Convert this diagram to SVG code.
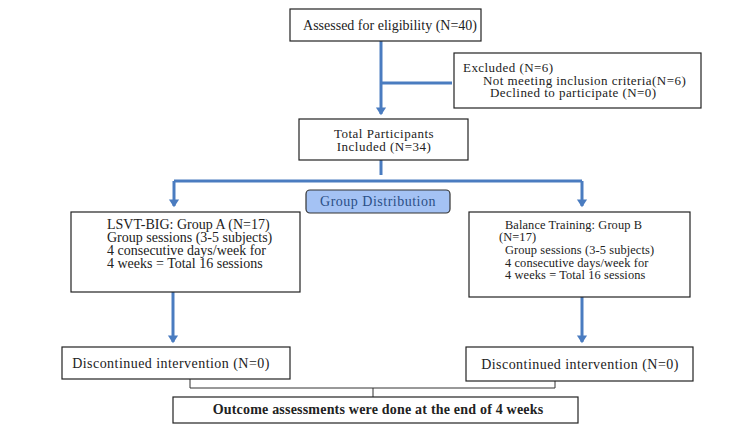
<svg xmlns="http://www.w3.org/2000/svg" width="750" height="429" viewBox="0 0 750 429">
<defs>
<marker id="ah" markerWidth="4" markerHeight="4" refX="2.2" refY="2" orient="auto" markerUnits="strokeWidth">
<path d="M0,0.3 L2.6,2 L0,3.7 Z" fill="#4a7cc0"/>
</marker>
</defs>
<style>
.box{fill:#fff;stroke:#222;stroke-width:1.2}
.t{font-family:"Liberation Serif","Times New Roman",serif;font-size:13px;fill:#222}
.m{font-size:14px}
.ex{font-size:13px;letter-spacing:0.45px}
.gb{font-size:12.4px;letter-spacing:0.1px}
.c{text-anchor:middle}
.b{font-weight:bold}
.blue{fill:none;stroke:#4a7cc0;stroke-width:3}
.thin{fill:none;stroke:#333;stroke-width:1}
</style>
<rect width="750" height="429" fill="#fff"/>
<g id="connectors">
<path class="blue" d="M381,41 V114" marker-end="url(#ah)"/>
<path class="blue" d="M381,83 H452"/>
<path class="blue" d="M381,160 V175"/>
<path class="blue" d="M174,181 H582"/>
<path class="blue" d="M174,181 V206" marker-end="url(#ah)"/>
<path class="blue" d="M582,181 V206" marker-end="url(#ah)"/>
<path class="blue" d="M173,292 V342" marker-end="url(#ah)"/>
<path class="blue" d="M582,297 V342" marker-end="url(#ah)"/>
<path class="thin" d="M190,379 V388 H555 V381 M373,388 V397"/>
</g>
<g id="assessed">
<rect class="box" x="290" y="9" width="191" height="32"/>
<text class="t m c" x="390" y="30">Assessed for eligibility (N=40)</text>
</g>
<g id="excluded">
<rect class="box" x="454" y="53" width="247" height="55"/>
<text class="t ex" x="463" y="72">Excluded (N=6)</text>
<text class="t ex" x="483" y="85">Not meeting inclusion criteria(N=6)</text>
<text class="t ex" x="490" y="97">Declined to participate (N=0)</text>
</g>
<g id="total">
<rect class="box" x="299" y="119" width="169" height="41"/>
<text class="t c" x="384" y="138" style="letter-spacing:0.5px">Total Participants</text>
<text class="t c" x="384" y="151" style="letter-spacing:0.5px">Included (N=34)</text>
</g>
<g id="distribution">
<rect x="306" y="190" width="144" height="23" rx="4" fill="#a4c2f4" stroke="#333" stroke-width="1.2"/>
<text class="t c" x="378" y="206" style="fill:#2b4f86;font-size:14px;letter-spacing:0.5px">Group Distribution</text>
</g>
<g id="groupA">
<rect class="box" x="71" y="212" width="229" height="80"/>
<text class="t m" x="107" y="229">LSVT-BIG: Group A (N=17)</text>
<text class="t m" x="107" y="242">Group sessions (3-5 subjects)</text>
<text class="t m" x="107" y="255">4 consecutive days/week for</text>
<text class="t m" x="107" y="268">4 weeks = Total 16 sessions</text>
</g>
<g id="groupB">
<rect class="box" x="469" y="212" width="221" height="85"/>
<text class="t gb" x="505" y="229">Balance Training: Group B</text>
<text class="t gb" x="499" y="241">(N=17)</text>
<text class="t gb" x="505" y="254">Group sessions (3-5 subjects)</text>
<text class="t gb" x="505" y="267">4 consecutive days/week for</text>
<text class="t gb" x="505" y="279">4 weeks = Total 16 sessions</text>
</g>
<g id="discA">
<rect class="box" x="62" y="347" width="228" height="32"/>
<text class="t m c" x="171" y="368" style="letter-spacing:0.45px">Discontinued intervention (N=0)</text>
</g>
<g id="discB">
<rect class="box" x="466" y="347" width="227" height="34"/>
<text class="t m c" x="580" y="369" style="letter-spacing:0.45px">Discontinued intervention (N=0)</text>
</g>
<g id="outcome">
<rect class="box" x="173" y="397" width="405" height="26"/>
<text class="t m b c" x="378" y="414" style="letter-spacing:0.2px">Outcome assessments were done at the end of 4 weeks</text>
</g>
</svg>
